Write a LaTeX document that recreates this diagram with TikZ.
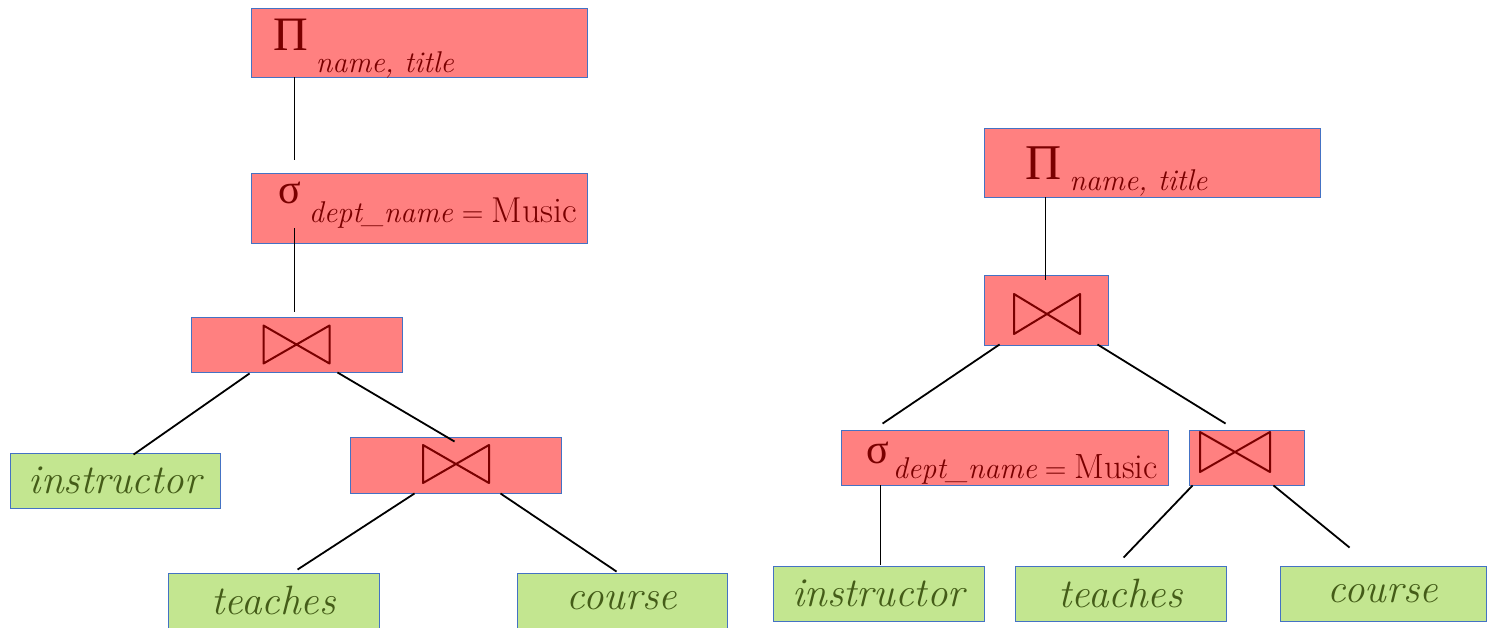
\documentclass[tikz,border=0pt]{standalone}
\usepackage{fontspec}
\newfontfamily\grk{Liberation Serif}
\usetikzlibrary{calc}
\definecolor{redfill}{RGB}{255,128,128}
\definecolor{redtxt}{RGB}{122,0,0}
\definecolor{bluebrd}{RGB}{68,114,196}
\definecolor{greenfill}{RGB}{195,230,144}
\definecolor{greentxt}{RGB}{68,92,24}
\tikzset{
  opbox/.style={draw=bluebrd, line width=0.9pt, fill=redfill, inner sep=0pt},
  relbox/.style={draw=bluebrd, line width=0.9pt, fill=greenfill, inner sep=0pt,
    minimum width=210, minimum height=55, text=greentxt,
    font=\fontsize{41}{41}\selectfont\itshape},
  optxt/.style={text=redtxt, inner sep=0pt, anchor=base west},
  conn/.style={draw=black, line width=1.8pt},
  bowline/.style={draw=redtxt, line width=2pt, line join=round}
}
\newcommand\drawbow[4]{\draw[bowline] ($(#1)+(#4)+(-#2,-#3)$) -- ($(#1)+(#4)+(#2,#3)$) -- ($(#1)+(#4)+(#2,-#3)$) -- ($(#1)+(#4)+(-#2,#3)$) -- cycle;}
\newcommand\musiceq[2]{\upshape\hspace{#2}{\fontsize{30}{30}\selectfont =}\hspace{8pt}{\fontsize{#1}{#1}\selectfont Music}}
\begin{document}
\begin{tikzpicture}[x=1pt,y=-1pt]
\useasboundingbox (0,0) rectangle (1487,627);
\clip (0,0) rectangle (1487,627);
\fill[white] (0,0) rectangle (1487,627);

% ---------- left tree ----------
\node[opbox, minimum width=336, minimum height=69] (P1) at (419,42.5) {};
\node[opbox, minimum width=336, minimum height=70] (S1) at (419,208) {};
\node[opbox, minimum width=211, minimum height=55] (J1) at (296.5,344.5) {};
\node[opbox, minimum width=211, minimum height=56] (J2) at (455.5,465) {};
\node[relbox] (I1) at (115,480.5) {instructor};
\node[relbox, minimum width=211] (T1) at (273.5,600.5) {teaches};
\node[relbox] (C1) at (622,600.5) {course};

\node[optxt] (p1t) at (273,50) {{\fontsize{48}{48}\selectfont\grk Π}\hspace{8pt}\raisebox{-22pt}{\fontsize{30}{30}\selectfont\itshape name, title}};
\node[optxt] (s1t) at (278,203) {{\fontsize{42}{42}\selectfont\grk σ}\hspace{8pt}\raisebox{-19pt}{\fontsize{30}{30}\selectfont\itshape dept\_name\musiceq{36}{9pt}}};
\drawbow{J1.center}{33}{19}{0,0}
\drawbow{J2.center}{33}{19}{0.5,-1}

\draw[conn] ($(P1.south west)+(44,0)$) -- ($(S1.north west)+(44,-13)$);
\draw[conn] ($(S1.south west)+(44,-15)$) -- ($(J1.north west)+(104,-5)$);
\draw[conn] ($(J1.south west)+(59,1)$) -- ($(I1.north west)+(124,2)$);
\draw[conn] ($(J1.south east)+(-65,0)$) -- ($(J2.north west)+(105,5)$);
\draw[conn] ($(J2.south west)+(65,0)$) -- ($(T1.north west)+(130,-3)$);
\draw[conn] ($(J2.south east)+(-61,0)$) -- ($(C1.north west)+(100,-1)$);

% ---------- right tree ----------
\node[opbox, minimum width=336, minimum height=69] (P2) at (1152,162.5) {};
\node[opbox, minimum width=124, minimum height=70] (J3) at (1046,310) {};
\node[opbox, minimum width=327, minimum height=55] (S2) at (1004.5,457.5) {};
\node[opbox, minimum width=115, minimum height=55] (J4) at (1246.5,457.5) {};
\node[relbox, minimum width=211] (I2) at (878.5,593.5) {instructor};
\node[relbox, minimum width=211] (T2) at (1120.5,593.5) {teaches};
\node[relbox, minimum width=206] (C2) at (1383,593.5) {course};

\node[optxt] (p2t) at (1025,179) {{\fontsize{50}{50}\selectfont\grk Π}\hspace{8pt}\raisebox{-11pt}{\fontsize{30}{30}\selectfont\itshape name, title}};
\node[optxt] (s2t) at (866,463) {{\fontsize{42}{42}\selectfont\grk σ}\hspace{4pt}\raisebox{-15pt}{\fontsize{30}{30}\selectfont\itshape dept\_name\musiceq{35}{8pt}}};
\drawbow{J3.center}{33}{20}{1,4}
\drawbow{J4.center}{35}{20}{-11.5,-5.5}

\draw[conn] ($(P2.south west)+(62,0)$) -- ($(J3.north west)+(62,5)$);
\draw[conn] ($(J3.south west)+(16,-1)$) -- ($(S2.north west)+(42,-6)$);
\draw[conn] ($(J3.south east)+(-11,-1)$) -- ($(J4.north west)+(37,-6)$);
\draw[conn] ($(S2.south west)+(40,0)$) -- ($(I2.north west)+(108,-1)$);
\draw[conn] ($(J4.south west)+(4,0)$) -- ($(T2.north west)+(109,-8)$);
\draw[conn] ($(J4.south east)+(-31,0)$) -- ($(C2.north west)+(70,-18)$);
\end{tikzpicture}
\end{document}
